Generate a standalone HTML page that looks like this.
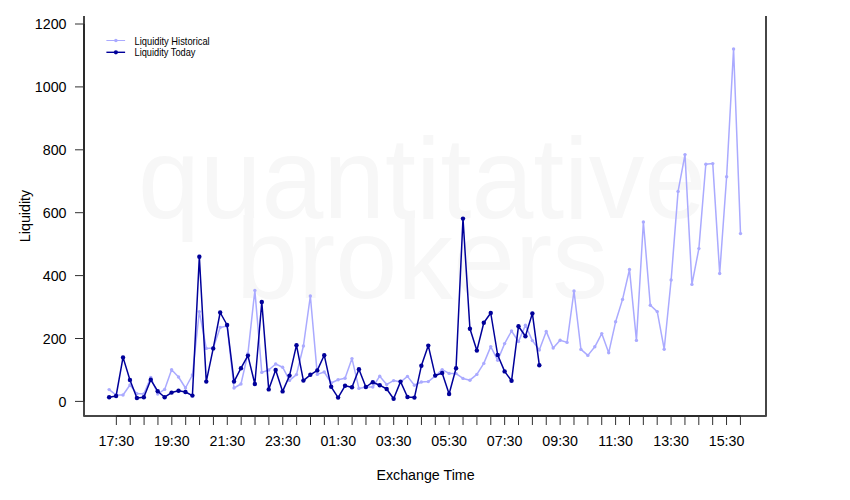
<!DOCTYPE html>
<html lang="en">
<head>
<meta charset="utf-8">
<title>Liquidity</title>
<style>
html,body{margin:0;padding:0;background:#fff;}
body{width:850px;height:500px;overflow:hidden;}
svg{display:block;}
text{font-family:"Liberation Sans",Arial,Helvetica,sans-serif;fill:#000;}
.ax text{font-size:14.25px;}
.wm text{font-size:115.5px;fill:#f7f7f7;}
.lg text{font-size:10.2px;}
</style>
</head>
<body>
<svg width="850" height="500" viewBox="0 0 850 500">
<rect width="850" height="500" fill="#fff"/>
<g class="wm">
<text x="138" y="217.5" textLength="568" lengthAdjust="spacingAndGlyphs">quantitative</text>
<text x="236" y="298" textLength="372" lengthAdjust="spacingAndGlyphs">brokers</text>
</g>
<g fill="none" stroke="#aaaaff" stroke-width="1.5" stroke-linejoin="round"><polyline points="109.15,389.6 116.09,395 123.03,395 129.96,385 136.9,393.6 143.84,394 150.78,377.4 157.72,394 164.65,389.4 171.59,369.8 178.53,377 185.47,388 192.41,375 199.34,311.6 206.28,348.4 213.22,348 220.16,327.4 227.1,326 234.03,388 240.97,384 247.91,353.6 254.85,290.4 261.79,372.4 268.72,370 275.66,364 282.6,367.2 289.54,380.4 296.48,374.6 303.41,346 310.35,296 317.29,374.4 324.23,372 331.17,383 338.1,379.8 345.04,378.2 351.98,358.6 358.92,388.4 365.86,387 372.79,387 379.73,376.2 386.67,384.4 393.61,380.6 400.55,382 407.48,376.4 414.42,385.2 421.36,382 428.3,381.6 435.24,376 442.17,369.6 449.11,373.4 456.05,373.6 462.99,378.4 469.93,380.2 476.86,374.4 483.8,363.4 490.74,346.6 497.68,360.2 504.62,343.6 511.55,331 518.49,341.6 525.43,325.2 532.37,340.6 539.31,350 546.24,331.4 553.18,348 560.12,340.2 567.06,342.4 574.0,291 580.93,349.4 587.87,355.4 594.81,346.8 601.75,333.6 608.69,352.8 615.62,321.8 622.56,299.4 629.5,269.5 636.44,340.4 643.38,222 650.31,305.2 657.25,311.6 664.19,349.2 671.13,280 678.07,191.4 685.0,154.6 691.94,284.4 698.88,248.6 705.82,164.2 712.76,163.6 719.69,273.5 726.63,176.8 733.57,49 740.51,233.6"/></g>
<g fill="#aaaaff"><circle cx="109.15" cy="389.6" r="1.7"/><circle cx="116.09" cy="395" r="1.7"/><circle cx="123.03" cy="395" r="1.7"/><circle cx="129.96" cy="385" r="1.7"/><circle cx="136.9" cy="393.6" r="1.7"/><circle cx="143.84" cy="394" r="1.7"/><circle cx="150.78" cy="377.4" r="1.7"/><circle cx="157.72" cy="394" r="1.7"/><circle cx="164.65" cy="389.4" r="1.7"/><circle cx="171.59" cy="369.8" r="1.7"/><circle cx="178.53" cy="377" r="1.7"/><circle cx="185.47" cy="388" r="1.7"/><circle cx="192.41" cy="375" r="1.7"/><circle cx="199.34" cy="311.6" r="1.7"/><circle cx="206.28" cy="348.4" r="1.7"/><circle cx="213.22" cy="348" r="1.7"/><circle cx="220.16" cy="327.4" r="1.7"/><circle cx="227.1" cy="326" r="1.7"/><circle cx="234.03" cy="388" r="1.7"/><circle cx="240.97" cy="384" r="1.7"/><circle cx="247.91" cy="353.6" r="1.7"/><circle cx="254.85" cy="290.4" r="1.7"/><circle cx="261.79" cy="372.4" r="1.7"/><circle cx="268.72" cy="370" r="1.7"/><circle cx="275.66" cy="364" r="1.7"/><circle cx="282.6" cy="367.2" r="1.7"/><circle cx="289.54" cy="380.4" r="1.7"/><circle cx="296.48" cy="374.6" r="1.7"/><circle cx="303.41" cy="346" r="1.7"/><circle cx="310.35" cy="296" r="1.7"/><circle cx="317.29" cy="374.4" r="1.7"/><circle cx="324.23" cy="372" r="1.7"/><circle cx="331.17" cy="383" r="1.7"/><circle cx="338.1" cy="379.8" r="1.7"/><circle cx="345.04" cy="378.2" r="1.7"/><circle cx="351.98" cy="358.6" r="1.7"/><circle cx="358.92" cy="388.4" r="1.7"/><circle cx="365.86" cy="387" r="1.7"/><circle cx="372.79" cy="387" r="1.7"/><circle cx="379.73" cy="376.2" r="1.7"/><circle cx="386.67" cy="384.4" r="1.7"/><circle cx="393.61" cy="380.6" r="1.7"/><circle cx="400.55" cy="382" r="1.7"/><circle cx="407.48" cy="376.4" r="1.7"/><circle cx="414.42" cy="385.2" r="1.7"/><circle cx="421.36" cy="382" r="1.7"/><circle cx="428.3" cy="381.6" r="1.7"/><circle cx="435.24" cy="376" r="1.7"/><circle cx="442.17" cy="369.6" r="1.7"/><circle cx="449.11" cy="373.4" r="1.7"/><circle cx="456.05" cy="373.6" r="1.7"/><circle cx="462.99" cy="378.4" r="1.7"/><circle cx="469.93" cy="380.2" r="1.7"/><circle cx="476.86" cy="374.4" r="1.7"/><circle cx="483.8" cy="363.4" r="1.7"/><circle cx="490.74" cy="346.6" r="1.7"/><circle cx="497.68" cy="360.2" r="1.7"/><circle cx="504.62" cy="343.6" r="1.7"/><circle cx="511.55" cy="331" r="1.7"/><circle cx="518.49" cy="341.6" r="1.7"/><circle cx="525.43" cy="325.2" r="1.7"/><circle cx="532.37" cy="340.6" r="1.7"/><circle cx="539.31" cy="350" r="1.7"/><circle cx="546.24" cy="331.4" r="1.7"/><circle cx="553.18" cy="348" r="1.7"/><circle cx="560.12" cy="340.2" r="1.7"/><circle cx="567.06" cy="342.4" r="1.7"/><circle cx="574.0" cy="291" r="1.7"/><circle cx="580.93" cy="349.4" r="1.7"/><circle cx="587.87" cy="355.4" r="1.7"/><circle cx="594.81" cy="346.8" r="1.7"/><circle cx="601.75" cy="333.6" r="1.7"/><circle cx="608.69" cy="352.8" r="1.7"/><circle cx="615.62" cy="321.8" r="1.7"/><circle cx="622.56" cy="299.4" r="1.7"/><circle cx="629.5" cy="269.5" r="1.7"/><circle cx="636.44" cy="340.4" r="1.7"/><circle cx="643.38" cy="222" r="1.7"/><circle cx="650.31" cy="305.2" r="1.7"/><circle cx="657.25" cy="311.6" r="1.7"/><circle cx="664.19" cy="349.2" r="1.7"/><circle cx="671.13" cy="280" r="1.7"/><circle cx="678.07" cy="191.4" r="1.7"/><circle cx="685.0" cy="154.6" r="1.7"/><circle cx="691.94" cy="284.4" r="1.7"/><circle cx="698.88" cy="248.6" r="1.7"/><circle cx="705.82" cy="164.2" r="1.7"/><circle cx="712.76" cy="163.6" r="1.7"/><circle cx="719.69" cy="273.5" r="1.7"/><circle cx="726.63" cy="176.8" r="1.7"/><circle cx="733.57" cy="49" r="1.7"/><circle cx="740.51" cy="233.6" r="1.7"/></g>
<g fill="none" stroke="#00009a" stroke-width="1.5" stroke-linejoin="round"><polyline points="109.15,397.2 116.09,396 123.03,357.4 129.96,380 136.9,398 143.84,397.2 150.78,379.8 157.72,391.2 164.65,397.2 171.59,392.6 178.53,390.8 185.47,392 192.41,395.6 199.34,256.8 206.28,381.6 213.22,348.4 220.16,312.5 227.1,325 234.03,381.6 240.97,368.2 247.91,355.6 254.85,384 261.79,302 268.72,389.4 275.66,370 282.6,391.4 289.54,375.6 296.48,345.2 303.41,380.6 310.35,374.8 317.29,370.4 324.23,355.2 331.17,386.8 338.1,397.6 345.04,385.8 351.98,387.2 358.92,369.2 365.86,387 372.79,382.2 379.73,385.2 386.67,389 393.61,398.8 400.55,381.6 407.48,397 414.42,397.6 421.36,365.8 428.3,345.6 435.24,375.6 442.17,373 449.11,394 456.05,368.2 462.99,218.6 469.93,328.8 476.86,350.6 483.8,322.8 490.74,313 497.68,355 504.62,371.4 511.55,380.8 518.49,326.2 525.43,336.2 532.37,313.4 539.31,365.2"/></g>
<g fill="#00009a"><circle cx="109.15" cy="397.2" r="2.2"/><circle cx="116.09" cy="396" r="2.2"/><circle cx="123.03" cy="357.4" r="2.2"/><circle cx="129.96" cy="380" r="2.2"/><circle cx="136.9" cy="398" r="2.2"/><circle cx="143.84" cy="397.2" r="2.2"/><circle cx="150.78" cy="379.8" r="2.2"/><circle cx="157.72" cy="391.2" r="2.2"/><circle cx="164.65" cy="397.2" r="2.2"/><circle cx="171.59" cy="392.6" r="2.2"/><circle cx="178.53" cy="390.8" r="2.2"/><circle cx="185.47" cy="392" r="2.2"/><circle cx="192.41" cy="395.6" r="2.2"/><circle cx="199.34" cy="256.8" r="2.2"/><circle cx="206.28" cy="381.6" r="2.2"/><circle cx="213.22" cy="348.4" r="2.2"/><circle cx="220.16" cy="312.5" r="2.2"/><circle cx="227.1" cy="325" r="2.2"/><circle cx="234.03" cy="381.6" r="2.2"/><circle cx="240.97" cy="368.2" r="2.2"/><circle cx="247.91" cy="355.6" r="2.2"/><circle cx="254.85" cy="384" r="2.2"/><circle cx="261.79" cy="302" r="2.2"/><circle cx="268.72" cy="389.4" r="2.2"/><circle cx="275.66" cy="370" r="2.2"/><circle cx="282.6" cy="391.4" r="2.2"/><circle cx="289.54" cy="375.6" r="2.2"/><circle cx="296.48" cy="345.2" r="2.2"/><circle cx="303.41" cy="380.6" r="2.2"/><circle cx="310.35" cy="374.8" r="2.2"/><circle cx="317.29" cy="370.4" r="2.2"/><circle cx="324.23" cy="355.2" r="2.2"/><circle cx="331.17" cy="386.8" r="2.2"/><circle cx="338.1" cy="397.6" r="2.2"/><circle cx="345.04" cy="385.8" r="2.2"/><circle cx="351.98" cy="387.2" r="2.2"/><circle cx="358.92" cy="369.2" r="2.2"/><circle cx="365.86" cy="387" r="2.2"/><circle cx="372.79" cy="382.2" r="2.2"/><circle cx="379.73" cy="385.2" r="2.2"/><circle cx="386.67" cy="389" r="2.2"/><circle cx="393.61" cy="398.8" r="2.2"/><circle cx="400.55" cy="381.6" r="2.2"/><circle cx="407.48" cy="397" r="2.2"/><circle cx="414.42" cy="397.6" r="2.2"/><circle cx="421.36" cy="365.8" r="2.2"/><circle cx="428.3" cy="345.6" r="2.2"/><circle cx="435.24" cy="375.6" r="2.2"/><circle cx="442.17" cy="373" r="2.2"/><circle cx="449.11" cy="394" r="2.2"/><circle cx="456.05" cy="368.2" r="2.2"/><circle cx="462.99" cy="218.6" r="2.2"/><circle cx="469.93" cy="328.8" r="2.2"/><circle cx="476.86" cy="350.6" r="2.2"/><circle cx="483.8" cy="322.8" r="2.2"/><circle cx="490.74" cy="313" r="2.2"/><circle cx="497.68" cy="355" r="2.2"/><circle cx="504.62" cy="371.4" r="2.2"/><circle cx="511.55" cy="380.8" r="2.2"/><circle cx="518.49" cy="326.2" r="2.2"/><circle cx="525.43" cy="336.2" r="2.2"/><circle cx="532.37" cy="313.4" r="2.2"/><circle cx="539.31" cy="365.2" r="2.2"/></g>
<path d="M84,16 V415.9 H766 V16" fill="none" stroke="#464646" stroke-width="2" stroke-linejoin="round"/>
<path d="M116.3,415.9 H740.5 M84,24 V401.4" fill="none" stroke="#2a2a2a" stroke-width="2"/>
<path d="M116.35,416 V425 M130.22,416 V425 M144.09,416 V425 M157.95,416 V425 M171.82,416 V425 M185.69,416 V425 M199.56,416 V425 M213.43,416 V425 M227.29,416 V425 M241.16,416 V425 M255.03,416 V425 M268.9,416 V425 M282.77,416 V425 M296.63,416 V425 M310.5,416 V425 M324.37,416 V425 M338.24,416 V425 M352.11,416 V425 M365.97,416 V425 M379.84,416 V425 M393.71,416 V425 M407.58,416 V425 M421.45,416 V425 M435.31,416 V425 M449.18,416 V425 M463.05,416 V425 M476.92,416 V425 M490.79,416 V425 M504.65,416 V425 M518.52,416 V425 M532.39,416 V425 M546.26,416 V425 M560.13,416 V425 M573.99,416 V425 M587.86,416 V425 M601.73,416 V425 M615.6,416 V425 M629.47,416 V425 M643.33,416 V425 M657.2,416 V425 M671.07,416 V425 M684.94,416 V425 M698.81,416 V425 M712.67,416 V425 M726.54,416 V425 M740.41,416 V425 M75,401.4 H84 M75,338.5 H84 M75,275.6 H84 M75,212.7 H84 M75,149.8 H84 M75,86.9 H84 M75,24.0 H84 " fill="none" stroke="#303030" stroke-width="1"/>
<g class="ax" text-anchor="middle"><text x="116.35" y="446">17:30</text><text x="171.82" y="446">19:30</text><text x="227.29" y="446">21:30</text><text x="282.77" y="446">23:30</text><text x="338.24" y="446">01:30</text><text x="393.71" y="446">03:30</text><text x="449.18" y="446">05:30</text><text x="504.65" y="446">07:30</text><text x="560.13" y="446">09:30</text><text x="615.6" y="446">11:30</text><text x="671.07" y="446">13:30</text><text x="726.54" y="446">15:30</text>
<text x="425.5" y="479.5">Exchange Time</text>
<text transform="translate(30.2,216) rotate(-90)">Liquidity</text>
</g>
<g class="ax" text-anchor="end"><text x="66.5" y="406.65">0</text><text x="66.5" y="343.75">200</text><text x="66.5" y="280.85">400</text><text x="66.5" y="217.95">600</text><text x="66.5" y="155.05">800</text><text x="66.5" y="92.15">1000</text><text x="66.5" y="29.25">1200</text></g>
<g class="lg">
<path d="M106.4,40.5 H125.1" stroke="#aaaaff" stroke-width="1"/><circle cx="115.9" cy="40.5" r="1.8" fill="#aaaaff"/>
<path d="M106.4,52.3 H125.1" stroke="#00009a" stroke-width="1.4"/><circle cx="115.9" cy="52.3" r="2.1" fill="#00009a"/>
<text x="134.5" y="44.8" textLength="75.2" lengthAdjust="spacingAndGlyphs">Liquidity Historical</text>
<text x="134.5" y="56.3" textLength="61" lengthAdjust="spacingAndGlyphs">Liquidity Today</text>
</g>
</svg>
</body>
</html>
